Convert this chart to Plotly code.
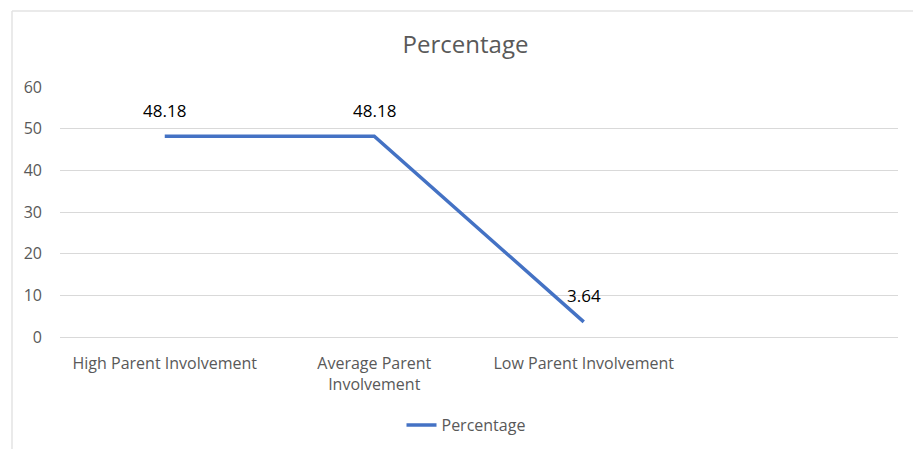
import plotly.graph_objects as go

# Share of respondents by level of parent involvement
categories = ["High Parent Involvement", "Average Parent<br>Involvement", "Low Parent Involvement"]
percentages = [48.18, 48.18, 3.64]
series_name = "Percentage"
y_ticks = [0, 10, 20, 30, 40, 50, 60]

W, H = 913, 449
L, R, T, B = 60, 15, 87, 112
plot_w = W - L - R
plot_h = H - T - B

FONT = "Open Sans, Noto Sans, sans-serif"


def px_x(px):
    return (px - L) / plot_w


def px_y(py):
    return (H - B - py) / plot_h


fig = go.Figure()
fig.add_trace(go.Scatter(
    x=categories,
    y=percentages,
    name=series_name,
    mode="lines",
    line=dict(color="#4472C4", width=3.5, shape="linear"),
    cliponaxis=False,
))

# value labels sitting above each point
for cat, val in zip(categories, percentages):
    fig.add_annotation(
        x=cat, y=val, xref="x", yref="y",
        text=f"{val:.2f}", showarrow=False,
        yshift=26, xanchor="center", yanchor="middle",
        font=dict(family=FONT, size=17, color="#000000"),
    )

gray = "#595959"
grid = "#D9D9D9"

fig.update_layout(
    width=W, height=H,
    margin=dict(l=L, r=R, t=T, b=B, autoexpand=False),
    paper_bgcolor="white",
    plot_bgcolor="white",
    font=dict(family=FONT, color=gray),
    title=dict(text="Percentage", x=465.5 / W, xref="container", xanchor="center",
               y=1 - 45 / H, yref="container", yanchor="middle",
               font=dict(size=24, color=gray)),
    xaxis=dict(
        type="category",
        range=[-0.5, 3.5],
        showgrid=False,
        showline=True, linecolor=grid, linewidth=1,
        ticks="",
        tickfont=dict(size=16, color=gray),
        ticklabelstandoff=12,
        fixedrange=True,
    ),
    yaxis=dict(
        range=[0, 60],
        tickvals=y_ticks,
        showgrid=True, gridcolor=grid, gridwidth=1,
        zeroline=False, showline=False,
        ticks="",
        tickfont=dict(size=16, color=gray),
        ticklabelstandoff=17,
    ),
    showlegend=True,
    legend=dict(orientation="h", x=466 / W, xref="container", xanchor="center",
                y=1 - 425 / H, yref="container", yanchor="middle",
                font=dict(size=16, color=gray), bgcolor="rgba(0,0,0,0)"),
    shapes=[
        dict(type="line", xref="paper", yref="paper", x0=px_x(12), x1=px_x(12),
             y0=px_y(11), y1=px_y(H + 5), line=dict(color="#E3E3E3", width=1.5)),
        dict(type="line", xref="paper", yref="paper", x0=px_x(12), x1=px_x(W + 5),
             y0=px_y(11), y1=px_y(11), line=dict(color="#E3E3E3", width=1.5)),
    ],
)

fig.write_html("out.html")
